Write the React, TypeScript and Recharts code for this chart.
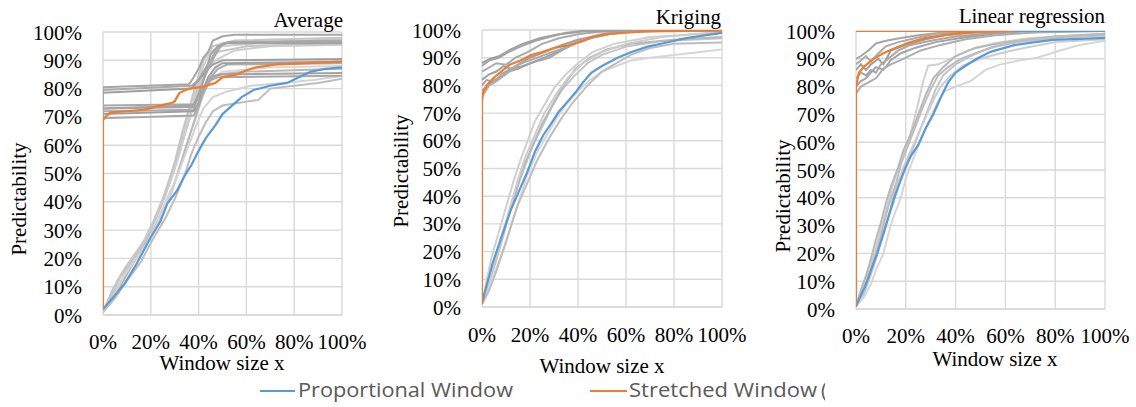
import { LineChart, Line, XAxis, YAxis, CartesianGrid } from "recharts";

type Pt = [number, number];

const xTicks = [0, 0.2, 0.4, 0.6, 0.8, 1];
const yTicks = [0, 0.1, 0.2, 0.3, 0.4, 0.5, 0.6, 0.7, 0.8, 0.9, 1];

const legendNames = ["Proportional Window", "Stretched Window", "("];
const titles = ["Average", "Kriging", "Linear regression"];
const yLabel = "Predictability";
const xLabel = "Window size x";

// ---- Average ----
const avgPropMean: Pt[] = [
  [0, 0.02], [0.04, 0.06], [0.09, 0.11], [0.14, 0.18], [0.2, 0.275], [0.24, 0.33],
  [0.27, 0.395], [0.31, 0.44], [0.34, 0.49], [0.37, 0.53], [0.4, 0.58], [0.43, 0.625],
  [0.47, 0.67], [0.5, 0.71], [0.54, 0.74], [0.58, 0.77], [0.63, 0.795], [0.7, 0.81],
  [0.77, 0.82], [0.82, 0.84], [0.87, 0.86], [0.93, 0.87], [1, 0.875],
];
const avgStretchMean: Pt[] = [
  [0, 0.02], [0, 0.69], [0.01, 0.7], [0.03, 0.715], [0.1, 0.72], [0.17, 0.725], [0.24, 0.74],
  [0.29, 0.75], [0.3, 0.755], [0.32, 0.785], [0.36, 0.8], [0.41, 0.805], [0.45, 0.815],
  [0.47, 0.82], [0.5, 0.84], [0.56, 0.85], [0.6, 0.865], [0.64, 0.875], [0.72, 0.885],
  [0.85, 0.89], [1, 0.895],
];
const avgPropRuns: Pt[][] = [
  [[0, 0.01], [0.05, 0.08], [0.1, 0.15], [0.15, 0.22], [0.2, 0.3], [0.24, 0.38], [0.27, 0.45], [0.3, 0.52], [0.33, 0.62], [0.36, 0.72], [0.39, 0.8], [0.42, 0.88], [0.45, 0.93], [0.5, 0.95], [0.7, 0.965], [1, 0.975]],
  [[0, 0.01], [0.04, 0.09], [0.08, 0.15], [0.12, 0.2], [0.17, 0.26], [0.21, 0.33], [0.25, 0.41], [0.28, 0.48], [0.31, 0.56], [0.35, 0.66], [0.38, 0.75], [0.41, 0.84], [0.44, 0.89], [0.48, 0.93], [0.6, 0.95], [1, 0.96]],
  [[0, 0.01], [0.05, 0.07], [0.09, 0.13], [0.14, 0.2], [0.18, 0.25], [0.22, 0.32], [0.26, 0.4], [0.3, 0.47], [0.33, 0.55], [0.36, 0.63], [0.39, 0.7], [0.42, 0.78], [0.45, 0.83], [0.5, 0.86], [0.7, 0.875], [1, 0.88]],
  [[0, 0.01], [0.06, 0.08], [0.11, 0.16], [0.16, 0.23], [0.21, 0.3], [0.25, 0.36], [0.29, 0.44], [0.32, 0.52], [0.35, 0.6], [0.38, 0.68], [0.41, 0.76], [0.44, 0.82], [0.48, 0.85], [0.6, 0.86], [1, 0.87]],
  [[0, 0.01], [0.04, 0.07], [0.09, 0.14], [0.13, 0.21], [0.18, 0.27], [0.22, 0.34], [0.26, 0.42], [0.29, 0.49], [0.32, 0.57], [0.35, 0.66], [0.38, 0.74], [0.41, 0.82], [0.44, 0.87], [0.47, 0.9], [0.55, 0.935], [0.7, 0.95], [1, 0.955]],
  [[0, 0.01], [0.05, 0.06], [0.1, 0.12], [0.16, 0.19], [0.21, 0.27], [0.26, 0.34], [0.3, 0.41], [0.34, 0.49], [0.37, 0.57], [0.4, 0.63], [0.43, 0.68], [0.46, 0.72], [0.5, 0.74], [0.57, 0.75], [0.65, 0.76], [0.7, 0.8], [0.8, 0.81], [0.9, 0.82], [1, 0.835]],
  [[0, 0.01], [0.05, 0.08], [0.09, 0.14], [0.13, 0.19], [0.18, 0.25], [0.23, 0.33], [0.27, 0.4], [0.31, 0.49], [0.35, 0.58], [0.39, 0.67], [0.42, 0.73], [0.46, 0.77], [0.52, 0.79], [0.62, 0.81], [0.75, 0.82], [0.88, 0.83], [1, 0.845]],
  [[0, 0.01], [0.03, 0.06], [0.07, 0.13], [0.12, 0.19], [0.16, 0.24], [0.2, 0.3], [0.24, 0.38], [0.27, 0.46], [0.3, 0.54], [0.33, 0.64], [0.36, 0.73], [0.39, 0.82], [0.42, 0.9], [0.46, 0.95], [0.55, 0.97], [1, 0.98]],
];
const avgStretchRuns: Pt[][] = [
  [[0, 0.69], [0, 0.805], [0.36, 0.815], [0.38, 0.84], [0.4, 0.87], [0.42, 0.91], [0.44, 0.93], [0.46, 0.97], [0.5, 0.985], [0.55, 0.99], [1, 0.99]],
  [[0, 0.795], [0.37, 0.81], [0.4, 0.83], [0.42, 0.86], [0.45, 0.9], [0.48, 0.945], [0.52, 0.965], [0.6, 0.965], [1, 0.97]],
  [[0, 0.785], [0.37, 0.8], [0.39, 0.82], [0.41, 0.84], [0.44, 0.87], [0.46, 0.885], [0.5, 0.9], [1, 0.905]],
  [[0, 0.74], [0.38, 0.745], [0.4, 0.78], [0.42, 0.83], [0.44, 0.87], [0.47, 0.92], [0.5, 0.96], [0.55, 0.965], [1, 0.965]],
  [[0, 0.73], [0.38, 0.735], [0.4, 0.77], [0.43, 0.81], [0.46, 0.845], [0.5, 0.85], [1, 0.855]],
  [[0, 0.72], [0.38, 0.725], [0.39, 0.76], [0.42, 0.8], [0.45, 0.84], [0.48, 0.87], [0.52, 0.885], [1, 0.89]],
  [[0, 0.71], [0.38, 0.72], [0.4, 0.75], [0.42, 0.8], [0.44, 0.84], [0.47, 0.875], [0.5, 0.89], [1, 0.895]],
  [[0, 0.695], [0.38, 0.705], [0.4, 0.74], [0.42, 0.79], [0.45, 0.83], [0.48, 0.84], [1, 0.845]],
  [[0, 0.73], [0.38, 0.74], [0.41, 0.8], [0.43, 0.86], [0.45, 0.92], [0.48, 0.95], [0.52, 0.96], [1, 0.96]],
];

// ---- Kriging ----
const krgPropMean: Pt[] = [
  [0, 0.015], [0.02, 0.08], [0.045, 0.16], [0.08, 0.25], [0.12, 0.35], [0.16, 0.43], [0.19, 0.49],
  [0.22, 0.56], [0.255, 0.62], [0.29, 0.665], [0.32, 0.705], [0.36, 0.745], [0.39, 0.775],
  [0.42, 0.81], [0.455, 0.845], [0.5, 0.87], [0.565, 0.9], [0.62, 0.92], [0.69, 0.94],
  [0.77, 0.955], [0.845, 0.97], [0.92, 0.98], [1, 0.99],
];
const krgStretchMean: Pt[] = [
  [0, 0.01], [0, 0.74], [0.005, 0.775], [0.02, 0.8], [0.045, 0.825], [0.08, 0.85], [0.115, 0.875],
  [0.16, 0.89], [0.205, 0.91], [0.25, 0.92], [0.3, 0.935], [0.36, 0.945], [0.41, 0.957],
  [0.46, 0.975], [0.51, 0.985], [0.6, 0.99], [0.68, 0.995], [0.85, 0.997], [1, 0.998],
];
const krgPropRuns: Pt[][] = [
  [[0, 0.01], [0.02, 0.1], [0.04, 0.18], [0.07, 0.27], [0.1, 0.36], [0.13, 0.45], [0.16, 0.53], [0.19, 0.6], [0.22, 0.67], [0.26, 0.73], [0.3, 0.79], [0.35, 0.84], [0.4, 0.88], [0.46, 0.92], [0.55, 0.95], [0.7, 0.975], [1, 0.99]],
  [[0, 0.01], [0.03, 0.09], [0.06, 0.17], [0.09, 0.26], [0.12, 0.36], [0.15, 0.44], [0.18, 0.51], [0.21, 0.58], [0.25, 0.65], [0.29, 0.72], [0.33, 0.78], [0.38, 0.83], [0.44, 0.88], [0.5, 0.91], [0.6, 0.94], [0.75, 0.96], [1, 0.97]],
  [[0, 0.01], [0.03, 0.07], [0.06, 0.14], [0.1, 0.23], [0.13, 0.32], [0.16, 0.4], [0.19, 0.48], [0.23, 0.56], [0.27, 0.62], [0.31, 0.68], [0.35, 0.73], [0.4, 0.78], [0.45, 0.82], [0.5, 0.85], [0.56, 0.87], [0.62, 0.89], [0.7, 0.9], [0.8, 0.91], [1, 0.93]],
  [[0, 0.01], [0.02, 0.08], [0.05, 0.16], [0.08, 0.25], [0.11, 0.33], [0.14, 0.41], [0.17, 0.5], [0.21, 0.58], [0.25, 0.66], [0.3, 0.74], [0.34, 0.8], [0.39, 0.86], [0.45, 0.9], [0.52, 0.93], [0.62, 0.95], [0.8, 0.965], [1, 0.975]],
  [[0, 0.01], [0.03, 0.1], [0.06, 0.19], [0.09, 0.28], [0.12, 0.37], [0.15, 0.46], [0.18, 0.54], [0.22, 0.62], [0.26, 0.7], [0.31, 0.77], [0.36, 0.83], [0.42, 0.88], [0.5, 0.92], [0.6, 0.95], [0.75, 0.975], [1, 0.995]],
  [[0, 0.01], [0.03, 0.06], [0.06, 0.13], [0.09, 0.21], [0.12, 0.29], [0.15, 0.37], [0.19, 0.45], [0.23, 0.53], [0.28, 0.61], [0.33, 0.68], [0.38, 0.74], [0.44, 0.8], [0.5, 0.85], [0.56, 0.88], [0.62, 0.91], [0.7, 0.935], [0.8, 0.95], [1, 0.955]],
];
const krgStretchRuns: Pt[][] = [
  [[0, 0.87], [0.03, 0.89], [0.07, 0.9], [0.11, 0.92], [0.16, 0.94], [0.22, 0.96], [0.28, 0.975], [0.35, 0.99], [0.45, 1], [1, 1]],
  [[0, 0.85], [0.02, 0.86], [0.06, 0.88], [0.1, 0.875], [0.14, 0.9], [0.19, 0.92], [0.25, 0.95], [0.32, 0.97], [0.4, 0.985], [0.5, 0.995], [1, 1]],
  [[0, 0.82], [0.03, 0.84], [0.06, 0.85], [0.09, 0.87], [0.12, 0.86], [0.16, 0.88], [0.2, 0.9], [0.26, 0.92], [0.33, 0.945], [0.4, 0.965], [0.48, 0.98], [0.58, 0.995], [1, 1]],
  [[0, 0.8], [0.02, 0.82], [0.05, 0.81], [0.08, 0.84], [0.12, 0.86], [0.17, 0.87], [0.22, 0.885], [0.28, 0.9], [0.34, 0.93], [0.4, 0.955], [0.47, 0.975], [0.55, 0.99], [0.65, 1], [1, 1]],
  [[0, 0.78], [0.02, 0.8], [0.05, 0.82], [0.08, 0.83], [0.11, 0.85], [0.15, 0.86], [0.2, 0.88], [0.26, 0.9], [0.32, 0.925], [0.38, 0.95], [0.45, 0.97], [0.53, 0.985], [0.62, 0.995], [1, 1]],
  [[0, 0.76], [0.03, 0.8], [0.06, 0.815], [0.1, 0.84], [0.14, 0.87], [0.18, 0.885], [0.23, 0.9], [0.29, 0.92], [0.36, 0.94], [0.42, 0.965], [0.5, 0.985], [0.6, 0.995], [1, 1]],
  [[0, 0.88], [0.03, 0.895], [0.07, 0.905], [0.12, 0.93], [0.17, 0.95], [0.24, 0.97], [0.32, 0.985], [0.42, 0.995], [1, 1]],
];

// ---- Linear regression ----
const linPropMean: Pt[] = [
  [0, 0.01], [0.02, 0.05], [0.036, 0.08], [0.06, 0.14], [0.085, 0.2], [0.11, 0.27], [0.13, 0.33],
  [0.15, 0.39], [0.17, 0.44], [0.195, 0.5], [0.22, 0.55], [0.25, 0.59], [0.28, 0.65], [0.31, 0.7],
  [0.34, 0.76], [0.37, 0.815], [0.4, 0.85], [0.44, 0.875], [0.485, 0.9], [0.54, 0.925],
  [0.6, 0.94], [0.64, 0.95], [0.72, 0.96], [0.79, 0.968], [0.9, 0.972], [1, 0.975],
];
const linStretchMean: Pt[] = [
  [0, 0.01], [0, 0.8], [0.012, 0.85], [0.03, 0.87], [0.07, 0.9], [0.11, 0.92], [0.16, 0.94],
  [0.22, 0.96], [0.28, 0.975], [0.35, 0.985], [0.425, 0.993], [0.5, 0.997], [0.615, 1], [0.63, 1],
];
const linTopStretch: Pt[] = [[0, 1], [0.62, 1]];
const linTopProp: Pt[] = [[0.62, 1], [1, 1]];
const linPropRuns: Pt[][] = [
  [[0, 0.01], [0.02, 0.06], [0.04, 0.11], [0.06, 0.16], [0.08, 0.22], [0.1, 0.29], [0.12, 0.35], [0.14, 0.42], [0.16, 0.48], [0.18, 0.54], [0.21, 0.6], [0.23, 0.67], [0.25, 0.74], [0.27, 0.82], [0.29, 0.875], [0.33, 0.88], [0.38, 0.9], [0.45, 0.93], [0.55, 0.955], [0.7, 0.975], [1, 0.99]],
  [[0, 0.01], [0.03, 0.05], [0.05, 0.1], [0.07, 0.15], [0.09, 0.21], [0.11, 0.27], [0.13, 0.33], [0.15, 0.4], [0.17, 0.46], [0.2, 0.52], [0.23, 0.58], [0.26, 0.65], [0.29, 0.72], [0.32, 0.79], [0.35, 0.84], [0.4, 0.88], [0.46, 0.91], [0.54, 0.94], [0.65, 0.96], [0.8, 0.975], [1, 0.985]],
  [[0, 0.01], [0.03, 0.04], [0.06, 0.09], [0.08, 0.14], [0.11, 0.2], [0.13, 0.27], [0.15, 0.33], [0.18, 0.4], [0.2, 0.47], [0.23, 0.54], [0.26, 0.61], [0.29, 0.67], [0.32, 0.73], [0.35, 0.78], [0.4, 0.8], [0.46, 0.82], [0.52, 0.86], [0.58, 0.88], [0.66, 0.895], [0.73, 0.905], [0.82, 0.93], [0.9, 0.95], [1, 0.965]],
  [[0, 0.01], [0.02, 0.07], [0.04, 0.12], [0.06, 0.18], [0.08, 0.25], [0.1, 0.31], [0.12, 0.38], [0.14, 0.44], [0.17, 0.51], [0.19, 0.57], [0.22, 0.63], [0.25, 0.7], [0.28, 0.77], [0.31, 0.83], [0.35, 0.87], [0.4, 0.91], [0.48, 0.94], [0.6, 0.96], [0.8, 0.98], [1, 0.99]],
  [[0, 0.01], [0.03, 0.06], [0.05, 0.12], [0.08, 0.19], [0.1, 0.25], [0.12, 0.31], [0.15, 0.38], [0.17, 0.45], [0.19, 0.51], [0.22, 0.57], [0.25, 0.63], [0.28, 0.69], [0.31, 0.75], [0.34, 0.8], [0.38, 0.84], [0.43, 0.875], [0.5, 0.9], [0.58, 0.92], [0.68, 0.94], [0.8, 0.96], [1, 0.97]],
  [[0, 0.01], [0.02, 0.05], [0.05, 0.11], [0.07, 0.17], [0.09, 0.23], [0.11, 0.3], [0.13, 0.37], [0.16, 0.45], [0.18, 0.52], [0.21, 0.59], [0.24, 0.66], [0.27, 0.73], [0.3, 0.79], [0.33, 0.84], [0.37, 0.87], [0.42, 0.9], [0.48, 0.92], [0.56, 0.945], [0.66, 0.965], [0.8, 0.98], [1, 0.985]],
];
const linStretchRuns: Pt[][] = [
  [[0, 0.9], [0.02, 0.91], [0.05, 0.93], [0.08, 0.955], [0.12, 0.965], [0.18, 0.975], [0.25, 0.985], [0.35, 0.995], [0.45, 1], [1, 1]],
  [[0, 0.88], [0.02, 0.895], [0.04, 0.91], [0.06, 0.89], [0.09, 0.92], [0.12, 0.945], [0.17, 0.96], [0.24, 0.975], [0.32, 0.99], [0.42, 0.995], [0.55, 1], [1, 1]],
  [[0, 0.86], [0.02, 0.88], [0.04, 0.86], [0.06, 0.88], [0.09, 0.9], [0.11, 0.88], [0.14, 0.93], [0.2, 0.95], [0.28, 0.97], [0.36, 0.985], [0.48, 0.995], [0.6, 1], [1, 1]],
  [[0, 0.83], [0.02, 0.85], [0.04, 0.84], [0.06, 0.86], [0.08, 0.85], [0.1, 0.88], [0.13, 0.9], [0.17, 0.93], [0.22, 0.95], [0.3, 0.965], [0.4, 0.98], [0.52, 0.99], [0.65, 1], [1, 1]],
  [[0, 0.8], [0.02, 0.82], [0.04, 0.83], [0.06, 0.85], [0.08, 0.87], [0.11, 0.86], [0.14, 0.895], [0.18, 0.92], [0.24, 0.94], [0.32, 0.96], [0.42, 0.975], [0.55, 0.99], [0.7, 1], [1, 1]],
  [[0, 0.775], [0.02, 0.8], [0.05, 0.815], [0.08, 0.83], [0.11, 0.865], [0.14, 0.88], [0.19, 0.9], [0.26, 0.93], [0.34, 0.95], [0.44, 0.97], [0.56, 0.985], [0.72, 0.995], [1, 1]],
];

const BLUE = "#5b9bd5";
const ORANGE = "#ed7d31";
const LIGHT = ["#d0d0d0", "#c4c4c4", "#d6d6d6", "#b8b8b8", "#cdcdcd", "#bdbdbd", "#d3d3d3", "#c6c6c6"];
const DARK = ["#a6a6a6", "#ababab", "#9f9f9f", "#a8a8a8", "#a3a3a3", "#adadad", "#a0a0a0", "#a9a9a9", "#a4a4a4"];
const SERIF = "Liberation Serif";
const SANS = "Open Sans";
const H = 407;
const XH = 60;

const pct = (v: number) => `${Math.round(v * 100)}%`;
const rows = (pts: Pt[]) => pts.map(([x, y]) => ({ x, y }));

function XTick(props: any) {
  const { x, y, payload } = props;
  return (
    <text x={x} y={y} dy="0.71em" textAnchor="middle" fontFamily={SERIF} fontSize={21} fill="#000">
      {pct(payload.value)}
    </text>
  );
}

function YTick(props: any) {
  const { x, y, payload } = props;
  return (
    <text x={x} y={y} dy="0.36em" textAnchor="end" fontFamily={SERIF} fontSize={21} fill="#000">
      {pct(payload.value)}
    </text>
  );
}

type PanelCfg = {
  left: number;
  width: number;
  plot: { l: number; r: number; t: number; b: number };
  xTickMargin: number;
  propRuns: Pt[][];
  stretchRuns: Pt[][];
  propMean: Pt[];
  stretchMean: Pt[];
  extraStretch?: Pt[];
  extraProp?: Pt[];
};

const panels: PanelCfg[] = [
  {
    left: 0, width: 380, plot: { l: 103, r: 342, t: 32, b: 315 }, xTickMargin: 19,
    propRuns: avgPropRuns, stretchRuns: avgStretchRuns, propMean: avgPropMean, stretchMean: avgStretchMean,
  },
  {
    left: 380, width: 380, plot: { l: 482, r: 722, t: 30, b: 307 }, xTickMargin: 20,
    propRuns: krgPropRuns, stretchRuns: krgStretchRuns, propMean: krgPropMean, stretchMean: krgStretchMean,
  },
  {
    left: 760, width: 376, plot: { l: 856, r: 1105, t: 31, b: 309 }, xTickMargin: 19,
    propRuns: linPropRuns, stretchRuns: linStretchRuns, propMean: linPropMean, stretchMean: linStretchMean,
    extraStretch: linTopStretch, extraProp: linTopProp,
  },
];

// text positions (page coords) for titles / axis labels
const titlePos = [
  { x: 343, y: 27 },
  { x: 721, y: 24 },
  { x: 1105, y: 23 },
];
const yLabelPos = [
  { x: 26, y: 199 },
  { x: 408, y: 171 },
  { x: 790, y: 196 },
];
const xLabelPos = [
  { x: 222, y: 370 },
  { x: 602, y: 373 },
  { x: 995, y: 366 },
];

function Panel({ cfg }: { cfg: PanelCfg }) {
  const { plot } = cfg;
  return (
    <div style={{ position: "absolute", left: cfg.left, top: 0 }}>
      <LineChart
        width={cfg.width}
        height={H}
        margin={{ top: plot.t, right: cfg.left + cfg.width - plot.r, bottom: H - plot.b - XH, left: 0 }}
      >
        <CartesianGrid stroke="#d9d9d9" strokeWidth={1.4} />
        <XAxis
          type="number"
          dataKey="x"
          domain={[0, 1]}
          ticks={xTicks}
          interval={0}
          allowDataOverflow
          tickLine={false}
          tickSize={0}
          tickMargin={cfg.xTickMargin}
          axisLine={{ stroke: "#d9d9d9", strokeWidth: 1.4 }}
          tick={<XTick />}
          height={XH}
        />
        <YAxis
          type="number"
          dataKey="y"
          domain={[0, 1]}
          ticks={yTicks}
          interval={0}
          allowDataOverflow
          tickLine={false}
          tickSize={0}
          tickMargin={21}
          axisLine={false}
          tick={<YTick />}
          width={plot.l - cfg.left}
        />
        {cfg.propRuns.map((run, i) => (
          <Line
            key={`p${i}`}
            data={rows(run)}
            dataKey="y"
            type="linear"
            stroke={LIGHT[i % LIGHT.length]}
            strokeWidth={2}
            dot={false}
            activeDot={false}
            isAnimationActive={false}
          />
        ))}
        {cfg.stretchRuns.map((run, i) => (
          <Line
            key={`s${i}`}
            data={rows(run)}
            dataKey="y"
            type="linear"
            stroke={DARK[i % DARK.length]}
            strokeWidth={2}
            dot={false}
            activeDot={false}
            isAnimationActive={false}
          />
        ))}
        {cfg.extraProp && (
          <Line data={rows(cfg.extraProp)} dataKey="y" stroke={BLUE} strokeWidth={2} dot={false} activeDot={false} isAnimationActive={false} />
        )}
        {cfg.extraStretch && (
          <Line data={rows(cfg.extraStretch)} dataKey="y" stroke={ORANGE} strokeWidth={2} dot={false} activeDot={false} isAnimationActive={false} />
        )}
        <Line data={rows(cfg.propMean)} dataKey="y" type="linear" stroke={BLUE} strokeWidth={2.2} dot={false} activeDot={false} isAnimationActive={false} />
        <Line data={rows(cfg.stretchMean)} dataKey="y" type="linear" stroke={ORANGE} strokeWidth={2.2} dot={false} activeDot={false} isAnimationActive={false} />
      </LineChart>
    </div>
  );
}

export default function App() {
  return (
    <div style={{ position: "absolute", left: 0, top: 0, width: 1136, height: H, background: "#fff", overflow: "hidden" }}>
      {panels.map((p, i) => (
        <Panel key={i} cfg={p} />
      ))}
      <svg width={1136} height={H} style={{ position: "absolute", left: 0, top: 0, pointerEvents: "none" }}>
        <defs>
          <clipPath id="legclip">
            <rect x={0} y={360} width={825} height={47} />
          </clipPath>
        </defs>
        {titles.map((t, i) => (
          <text key={t} x={titlePos[i].x} y={titlePos[i].y} textAnchor="end" fontFamily={SERIF} fontSize={21} fill="#000">
            {t}
          </text>
        ))}
        {yLabelPos.map((p, i) => (
          <text
            key={`yl${i}`}
            x={p.x}
            y={p.y}
            transform={`rotate(-90 ${p.x} ${p.y})`}
            textAnchor="middle"
            fontFamily={SERIF}
            fontSize={21}
            fill="#000"
          >
            {yLabel}
          </text>
        ))}
        {xLabelPos.map((p, i) => (
          <text key={`xl${i}`} x={p.x} y={p.y} textAnchor="middle" fontFamily={SERIF} fontSize={21} fill="#000">
            {xLabel}
          </text>
        ))}
        <g clipPath="url(#legclip)">
          <line x1={260} x2={295} y1={391} y2={391} stroke={BLUE} strokeWidth={2.2} />
          <text x={298} y={397} fontFamily={SANS} fontSize={20} fill="#595959" textLength={215} lengthAdjust="spacingAndGlyphs">
            {legendNames[0]}
          </text>
          <line x1={590} x2={627} y1={391} y2={391} stroke={ORANGE} strokeWidth={2.2} />
          <text x={629} y={397} fontFamily={SANS} fontSize={20} fill="#595959" textLength={188} lengthAdjust="spacingAndGlyphs">
            {legendNames[1]}
          </text>
          <text x={821} y={397} fontFamily={SANS} fontSize={20} fill="#595959">
            {legendNames[2]}
          </text>
        </g>
      </svg>
    </div>
  );
}
